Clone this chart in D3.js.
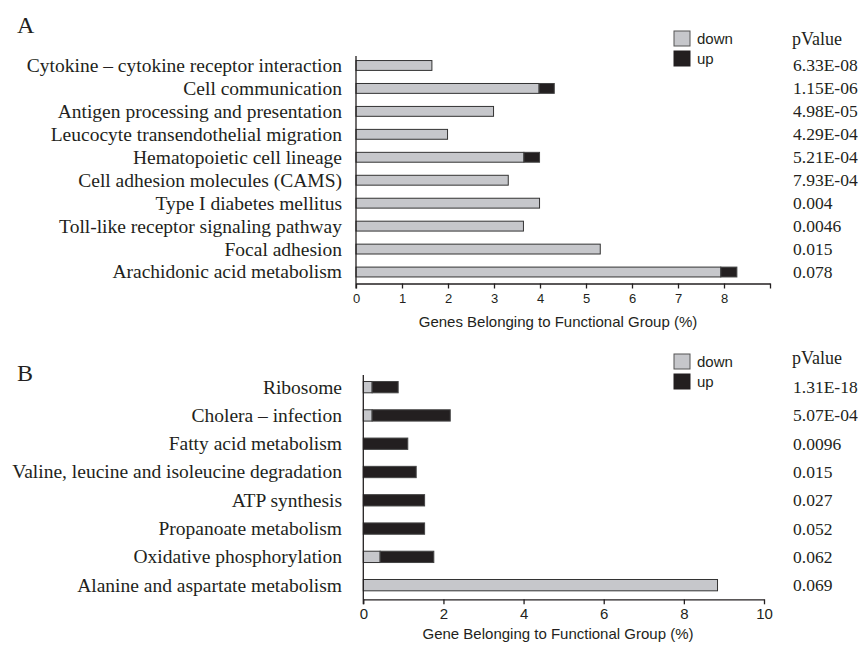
<!DOCTYPE html>
<html>
<head>
<meta charset="utf-8">
<script src="https://cdn.jsdelivr.net/npm/d3@7"></script>
<style>
    body { margin: 0; background: #fff; }
    .serif { font-family: "Liberation Serif", "Times New Roman", serif; fill: #231f20; }
    .sans { font-family: "Liberation Sans", Arial, sans-serif; fill: #231f20; }
</style>
</head>
<body>
<div id="chart"></div>
<script>
// Panel A data
const catsA = ["Cytokine \u2013 cytokine receptor interaction", "Cell communication",
    "Antigen processing and presentation", "Leucocyte transendothelial migration",
    "Hematopoietic cell lineage", "Cell adhesion molecules (CAMS)", "Type I diabetes mellitus",
    "Toll-like receptor signaling pathway", "Focal adhesion", "Arachidonic acid metabolism"];
const downA = [1.65, 3.98, 2.99, 1.99, 3.65, 3.31, 3.99, 3.64, 5.31, 7.93];
const upA = [0, 0.33, 0, 0, 0.34, 0, 0, 0, 0, 0.35];
const pA = ["6.33E-08", "1.15E-06", "4.98E-05", "4.29E-04", "5.21E-04", "7.93E-04",
    "0.004", "0.0046", "0.015", "0.078"];
const ticksA = [0, 1, 2, 3, 4, 5, 6, 7, 8, 9];
const tickLabelsA = ["0", "1", "2", "3", "4", "5", "6", "7", "8", ""];

// Panel B data
const catsB = ["Ribosome", "Cholera \u2013 infection", "Fatty acid metabolism",
    "Valine, leucine and isoleucine degradation", "ATP synthesis", "Propanoate metabolism",
    "Oxidative phosphorylation", "Alanine and aspartate metabolism"];
const downB = [0.22, 0.22, 0, 0, 0, 0, 0.42, 8.84];
const upB = [0.65, 1.95, 1.11, 1.32, 1.53, 1.53, 1.34, 0];
const pB = ["1.31E-18", "5.07E-04", "0.0096", "0.015", "0.027", "0.052", "0.062", "0.069"];
const ticksB = [0, 2, 4, 6, 8, 10];
const tickLabelsB = ["0", "2", "4", "6", "8", "10"];

const legendKeys = ["down", "up"];

const DOWN_COLOR = "#c6c7cb";
const UP_COLOR = "#231f20";
const INK = "#231f20";

const svg = d3.select("#chart").append("svg")
    .attr("width", 863)
    .attr("height", 646);

function drawPanel(p) {
    var g = svg.append("g");

    var x = d3.scaleLinear().domain(p.domain).range(p.xRange);
    var y = d3.scaleBand().domain(p.cats).range(p.yRange)
        .paddingInner(p.pad).paddingOuter(p.pad / 2);
    var axisY = p.yRange[1];

    // panel letter
    g.append("text")
        .attr("class", "serif")
        .attr("x", 17)
        .attr("y", p.letterY)
        .style("font-size", "24px")
        .text(p.letter);

    // bars
    var rows = p.cats.map((c, i) => ({ cat: c, down: p.down[i], up: p.up[i] }));

    g.selectAll(".down").data(rows.filter(d => d.down > 0)).enter()
        .append("rect")
        .attr("class", "down")
        .attr("x", x(0))
        .attr("y", d => y(d.cat))
        .attr("width", d => x(d.down) - x(0))
        .attr("height", y.bandwidth())
        .attr("fill", DOWN_COLOR)
        .attr("stroke", "#333")
        .attr("stroke-width", 1);

    g.selectAll(".up").data(rows.filter(d => d.up > 0)).enter()
        .append("rect")
        .attr("class", "up")
        .attr("x", d => x(d.down))
        .attr("y", d => y(d.cat))
        .attr("width", d => x(d.down + d.up) - x(d.down))
        .attr("height", y.bandwidth())
        .attr("fill", UP_COLOR)
        .attr("stroke", "#444")
        .attr("stroke-width", 1);

    // category labels
    g.selectAll(".cat").data(p.cats).enter()
        .append("text")
        .attr("class", "serif")
        .attr("x", 342)
        .attr("y", d => y(d) + y.bandwidth() / 2)
        .attr("dy", "0.33em")
        .attr("text-anchor", "end")
        .style("font-size", "19.5px")
        .text(d => d);

    // pValue column
    g.append("text")
        .attr("class", "serif")
        .attr("x", 792)
        .attr("y", p.pHeadY)
        .style("font-size", "18px")
        .text("pValue");

    g.selectAll(".pv").data(p.pvals).enter()
        .append("text")
        .attr("class", "serif")
        .attr("x", 793)
        .attr("y", (d, i) => y(p.cats[i]) + y.bandwidth() / 2)
        .attr("dy", "0.34em")
        .style("font-size", "17.5px")
        .text(d => d);

    // x axis
    var xAxis = g.append("g")
        .attr("transform", "translate(0," + axisY + ")")
        .call(d3.axisBottom(x)
            .tickValues(p.ticks)
            .tickFormat((d, i) => p.tickLabels[i])
            .tickSize(5)
            .tickSizeOuter(0)
            .tickPadding(p.tickPad));
    xAxis.select(".domain").attr("stroke", INK).attr("stroke-width", 1.3);
    xAxis.selectAll(".tick line").attr("stroke", INK).attr("stroke-width", 1.3);
    xAxis.selectAll(".tick text")
        .attr("fill", INK)
        .style("font-family", "Liberation Sans, Arial, sans-serif")
        .style("font-size", p.tickFont);

    // y axis line
    g.append("line")
        .attr("x1", x(0)).attr("x2", x(0))
        .attr("y1", p.yRange[0] + 2).attr("y2", axisY + 5)
        .attr("stroke", INK)
        .attr("stroke-width", 1.3);

    // x axis title
    g.append("text")
        .attr("class", "sans")
        .attr("x", 558)
        .attr("y", p.titleY)
        .attr("text-anchor", "middle")
        .style("font-size", "15px")
        .text(p.title);

    // legend
    var leg = g.selectAll(".leg").data(legendKeys).enter()
        .append("g")
        .attr("transform", (d, i) => "translate(674," + (p.legendY + i * 20) + ")");
    leg.append("rect")
        .attr("width", 16)
        .attr("height", 15)
        .attr("fill", d => d === "down" ? DOWN_COLOR : UP_COLOR)
        .attr("stroke", d => d === "down" ? "#555" : UP_COLOR)
        .attr("stroke-width", 1);
    leg.append("text")
        .attr("class", "sans")
        .attr("x", 23)
        .attr("y", 13)
        .style("font-size", "15px")
        .text(d => d);
}

drawPanel({
    letter: "A", letterY: 33,
    cats: catsA, down: downA, up: upA, pvals: pA,
    domain: [0, 9], xRange: [356, 770],
    yRange: [54, 283.5], pad: 0.57,
    ticks: ticksA, tickLabels: tickLabelsA, tickPad: 5, tickFont: "13px",
    title: "Genes Belonging to Functional Group (%)", titleY: 327,
    pHeadY: 45, legendY: 31
});

drawPanel({
    letter: "B", letterY: 381,
    cats: catsB, down: downB, up: upB, pvals: pB,
    domain: [0, 10], xRange: [363.3, 764],
    yRange: [373, 599.3], pad: 0.6,
    ticks: ticksB, tickLabels: tickLabelsB, tickPad: 4, tickFont: "15px",
    title: "Gene Belonging to Functional Group (%)", titleY: 639,
    pHeadY: 364, legendY: 354
});
</script>
</body>
</html>
